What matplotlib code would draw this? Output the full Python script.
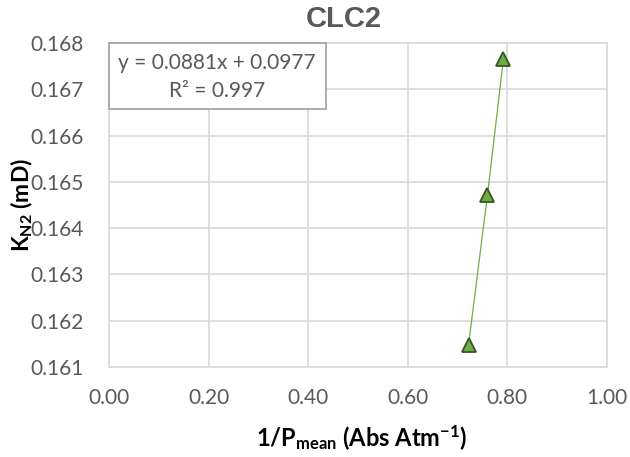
import numpy as np
import matplotlib
matplotlib.use("Agg")
import matplotlib.pyplot as plt

plt.rcParams['font.family'] = ['Lato', 'DejaVu Sans']
plt.rcParams['mathtext.fontset'] = 'custom'
plt.rcParams['mathtext.rm'] = 'Lato'
plt.rcParams['mathtext.it'] = 'Lato'
plt.rcParams['mathtext.bf'] = 'Lato:bold'

# data
inv_p = [0.722, 0.760, 0.792]
k_n2 = [0.16148, 0.16472, 0.16765]
x_ticks = [0.0, 0.2, 0.4, 0.6, 0.8, 1.0]
y_ticks = [0.161, 0.162, 0.163, 0.164, 0.165, 0.166, 0.167, 0.168]
eq_line = "y = 0.0881x + 0.0977"
r2_line = "R² = 0.997"

W, H = 630, 457
fig = plt.figure(figsize=(W / 100, H / 100), dpi=100)
ax = fig.add_axes([109 / W, 1 - 367 / H, (607 - 109) / W, (367 - 43) / H])

grid_c = '#D9D9D9'
ax.set_xlim(0, 1.0)
ax.set_ylim(0.161, 0.168)
ax.set_xticks(x_ticks)
ax.set_yticks(y_ticks)
ax.set_xticklabels([f'{v:.2f}' for v in x_ticks])
ax.set_yticklabels([f'{v:.3f}' for v in y_ticks])
ax.tick_params(length=0, labelsize=15, colors='#595959')
ax.tick_params(axis='y', pad=18)
ax.tick_params(axis='x', pad=15)
ax.grid(True, color=grid_c, linewidth=1.2)
for s in ax.spines.values():
    s.set_color(grid_c)
    s.set_linewidth(1.2)
ax.set_axisbelow(True)

ax.plot(inv_p, k_n2, color='#70AD47', linewidth=0.9, marker='^',
        markersize=10, markerfacecolor='#70AD47', markeredgecolor='#375623',
        markeredgewidth=1.3, zorder=3)

# equation box
box = plt.Rectangle((109 / W, 1 - 109 / H), (326 - 109) / W, (109 - 43) / H,
                    transform=fig.transFigure, fc='white', ec='#A6A6A6',
                    lw=1.3, zorder=4)
fig.patches.append(box)
fig.text(217 / W, 1 - 63 / H, eq_line, ha='center', va='center',
         fontsize=15, color='#595959', zorder=5)
fig.text(217 / W, 1 - 91 / H, r2_line, ha='center', va='center',
         fontsize=15, color='#595959', zorder=5)

fig.text(344 / W, 1 - 19 / H, 'CLC2', ha='center', va='center',
         fontsize=21, fontweight='bold', color='#595959',
         family=['Liberation Sans'])

fig.text(22 / W, 1 - 205 / H, r'$\mathbf{K_{N2}}$ (mD)', ha='center', va='center',
         rotation=90, fontsize=16.5, fontweight='bold', color='black')
fig.text(362 / W, 1 - 438 / H, r'$\mathbf{1/P_{mean}}$ (Abs Atm$^{\mathbf{-1}}$)',
         ha='center', va='center', fontsize=17, fontweight='bold', color='black')

fig.savefig('out.png', dpi=100)
